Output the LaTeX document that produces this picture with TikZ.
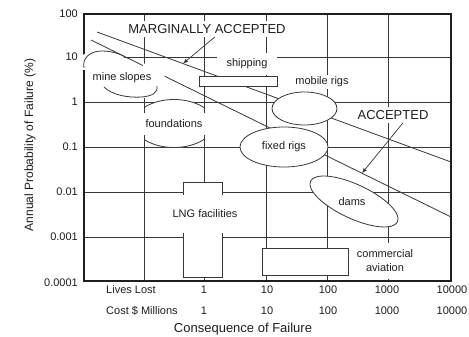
\documentclass[tikz,border=0pt]{standalone}
\usepackage{fontspec}
\setmainfont{Liberation Sans}
\usetikzlibrary{arrows.meta,shapes.geometric}
\definecolor{ink}{HTML}{1E1E1E}
\definecolor{gridc}{HTML}{383838}
\begin{document}
\begin{tikzpicture}[x=1pt,y=-1pt,
  gridline/.style={draw=gridc, line width=0.8pt},
  bound/.style={draw=gridc, line width=0.8pt},
  boxshape/.style={draw=gridc, fill=white, line width=0.8pt, inner sep=0pt},
  blob/.style={ellipse, draw=gridc, fill=white, line width=0.8pt, inner sep=0pt},
  lbl/.style={font=\fontsize{11}{14}\selectfont, text=ink, inner sep=2pt},
  wlbl/.style={lbl, fill=white},
  big/.style={font=\fontsize{13}{15}\selectfont, text=ink, fill=white, inner sep=3pt},
  tick/.style={font=\fontsize{11}{13}\selectfont, text=ink, inner sep=0pt},
  pointer/.style={draw=gridc, line width=0.7pt, -{Latex[length=5pt,width=4pt]}},
]
\useasboundingbox (0,0) rectangle (469,337);
\fill[white] (0,0) rectangle (469,337);

% grid
\foreach \yy in {57,102,147,192,237} \draw[gridline] (84,\yy) -- (451,\yy);
\foreach \xx in {144,204,266,327,388} \draw[gridline] (\xx,14) -- (\xx,281);

% acceptance boundaries
\coordinate (mA) at (97,32);
\coordinate (mB) at (451,162);
\coordinate (aA) at (91,40);
\coordinate (aB) at (451,217);
\draw[bound] (mA) -- (mB);
\draw[bound] (aA) -- (aB);

% frame
\draw[line width=2.4pt, draw=ink] (84,14) rectangle (451,281);

% mine slopes blob
\fill[white] (80,57) -- (86,53) .. controls (95,49) and (118,50) .. (127,60) -- (143,68) -- (143,63) -- (165,73) -- (162,95) .. controls (150,100) and (115,100) .. (100,88) -- (86,70) -- (80,70) -- cycle;
\draw[bound] (84,68) .. controls (82,58) and (90,51) .. (102,51) .. controls (114,51) and (122,55) .. (127,58);
\draw[bound] (104,87) .. controls (112,95) and (128,98) .. (142,97) .. controls (152,96) and (158,93) .. (157,86);
\node[lbl] (mine) at (122,78) {mine slopes};

% foundations
\begin{scope}
\clip (144,90) rectangle (204,160);
\draw[draw=gridc, fill=white, line width=0.8pt] (174,123.5) ellipse [x radius=40, y radius=24];
\end{scope}
\draw[gridline] (144,98) -- (144,150);
\draw[gridline] (204,98) -- (204,150);
\node[lbl, fill=white, minimum width=64, minimum height=22] (found) at (174,124) {foundations};

% shipping
\node[boxshape, minimum width=78, minimum height=10] (shipbox) at (238,81) {};
\node[lbl, fill=white, minimum width=60, minimum height=22] (ship) at (247,64) {shipping};

% rigs
\node[blob, minimum width=65, minimum height=33] (mobile) at (304.5,108.5) {};
\node[wlbl] (mobilel) at (322,82) {mobile rigs};
\node[blob, lbl, draw=gridc, fill=white, minimum width=88, minimum height=40] (fixed) at (284,147) {fixed rigs};

% dams
\node[blob, minimum width=96, minimum height=34, rotate=-25] (dams) at (354,201.5) {};
\node[lbl] (damsl) at (352,202) {dams};

% LNG facilities
\node[boxshape, minimum width=39, minimum height=95] (lngbox) at (202.5,229.5) {};
\node[lbl, fill=white, minimum height=38] (lng) at (205,214) {LNG facilities};

% commercial aviation
\node[boxshape, minimum width=86, minimum height=27] (avbox) at (305,261.5) {};
\node[lbl, fill=white, align=center, minimum height=36] (av) at (385,261) {commercial\\aviation};

% region labels and pointers
\node[big] (marg) at (207,29) {MARGINALLY ACCEPTED};
\node[big] (acc) at (393,115) {ACCEPTED};
\coordinate (mtip) at (183,63.6);
\coordinate (atip) at (362,173.2);
\draw[pointer] ([xshift=8pt]marg.south) -- (mtip);
\draw[pointer] ([xshift=10pt]acc.south) -- (atip);

% y axis
\node[tick, anchor=east] (y100) at (78,14) {100};
\node[tick, anchor=east] (y10) at (78,57) {10};
\node[tick, anchor=east] (y1) at (78,102) {1};
\node[tick, anchor=east] (y01) at (78,147) {0.1};
\node[tick, anchor=east] (y001) at (78,192) {0.01};
\node[tick, anchor=east] (y0001) at (78,237) {0.001};
\node[tick, anchor=east] (y00001) at (78,283) {0.0001};
\node[font=\fontsize{12}{14}\selectfont, text=ink, rotate=90] (ytitle) at (30,145) {Annual Probability of Failure (\%)};

% x axis
\node[tick, anchor=west] (lives) at (106,290) {Lives Lost};
\node[tick, anchor=west] (cost) at (106,311) {Cost \$ Millions};
\foreach \xx/\vv [count=\i] in {204/1,267/10,328/100,387/1000,452/10000}{
  \node[tick] (lx\i) at (\xx,290) {\vv};
  \node[tick] (cx\i) at (\xx,311) {\vv};
}
\node[font=\fontsize{13}{15}\selectfont, text=ink] (xtitle) at (243,329) {Consequence of Failure};
\end{tikzpicture}
\end{document}
